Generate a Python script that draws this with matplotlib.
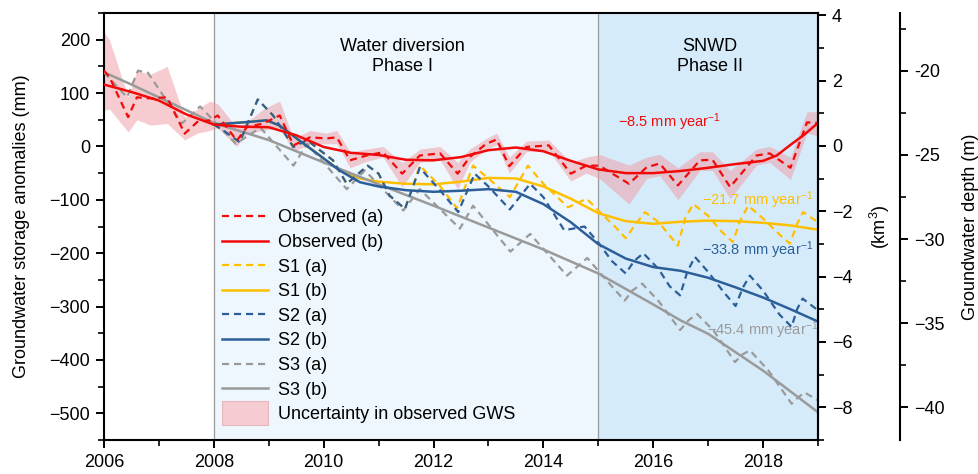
import matplotlib
matplotlib.use('Agg')
import matplotlib.pyplot as plt
import matplotlib.patches as mpatches
from matplotlib.legend_handler import HandlerPatch
from matplotlib.ticker import MultipleLocator, FixedLocator

plt.rcParams['font.family'] = ['Liberation Sans', 'DejaVu Sans']
plt.rcParams['mathtext.fontset'] = 'custom'
plt.rcParams['mathtext.rm'] = 'Liberation Sans'
plt.rcParams['mathtext.it'] = 'Liberation Sans:italic'
plt.rcParams['axes.unicode_minus'] = True

# ---- data (mm) ----
obs_a_t = [2006.0, 2006.1, 2006.44, 2006.6, 2006.84, 2007.15, 2007.47, 2007.7, 2007.93, 2008.07,
           2008.42, 2008.6, 2008.9, 2009.2, 2009.45, 2009.75, 2010.05, 2010.24, 2010.48, 2010.78,
           2011.08, 2011.43, 2011.75, 2012.12, 2012.44, 2012.66, 2012.96, 2013.15, 2013.38, 2013.69,
           2014.1, 2014.5, 2014.78, 2015.02, 2015.56, 2015.88, 2016.12, 2016.45, 2016.85, 2017.08,
           2017.4, 2017.88, 2018.12, 2018.5, 2018.8, 2019.0]
obs_a = [142, 130, 55, 92, 90, 92, 24, 46, 49, 58,
         11, 36, 43, 58, 2, 17, 15, 17, -26, -17,
         -11, -51, -17, -13, -51, -20, 5, 13, -37, -1,
         2, -51, -36, -36, -70, -39, -32, -73, -26, -25,
         -76, -17, -13, -40, 45, 44]
band_hi = [214, 200, 92, 142, 135, 150, 55, 70, 85, 80,
           35, 45, 70, 85, 15, 30, 25, 30, -10, -5,
           0, -30, -5, 0, -30, -5, 15, 25, -20, 10,
           12, -30, -20, -15, -35, -20, -15, -40, -10, -10,
           -45, -5, 0, -20, 65, 65]
band_lo = [68, 70, 27, 50, 40, 43, 12, 25, 30, 35,
           0, 25, 30, 35, -10, 5, 5, 5, -40, -28,
           -20, -76, -30, -25, -80, -30, -5, 3, -50, -10,
           -8, -65, -50, -60, -108, -60, -55, -100, -45, -45,
           -98, -35, -30, -62, 25, 20]

obs_b_t = [2006.0, 2006.5, 2007.0, 2007.5, 2008.0, 2008.5, 2009.0, 2009.5, 2010.0, 2010.5,
           2011.0, 2011.5, 2012.0, 2012.5, 2013.0, 2013.5, 2014.0, 2014.5, 2015.0, 2015.5,
           2016.0, 2016.5, 2017.0, 2017.5, 2018.0, 2018.25, 2018.5, 2018.75, 2019.0]
obs_b = [116, 102, 86, 60, 41, 37, 36, 21, -1, -12,
         -16, -25, -26, -20, -7, -2, -9, -27, -43, -50,
         -50, -46, -40, -33, -27, -17, 3, 22, 44]

s1a_t = [2008.0, 2008.2, 2008.47, 2008.8, 2009.08, 2009.45, 2009.7, 2009.93, 2010.17, 2010.42,
         2010.8, 2011.0, 2011.2, 2011.48, 2011.75, 2012.1, 2012.43, 2012.72, 2013.0, 2013.39,
         2013.72, 2014.0, 2014.45, 2014.79, 2015.05, 2015.3, 2015.5, 2015.65, 2015.85, 2016.1,
         2016.3, 2016.45, 2016.58, 2016.73, 2017.0, 2017.25, 2017.45, 2017.58, 2017.73, 2018.0,
         2018.3, 2018.49, 2018.62, 2018.73, 2019.0]
s1a = [41, 28, 8, 88, 58, -1, 12, -7, -26, -70,
       -36, -51, -92, -117, -36, -72, -116, -36, -60, -95,
       -36, -70, -114, -98, -125, -150, -172, -150, -123, -142,
       -167, -186, -135, -108, -130, -160, -179, -140, -111, -135,
       -165, -182, -145, -123, -142]

s1b_t = [2008.0, 2008.65, 2008.96, 2009.2, 2009.56, 2009.93, 2010.29, 2010.66, 2011.0, 2011.5,
         2012.0, 2012.5, 2013.0, 2013.5, 2014.0, 2014.5, 2015.0, 2015.5, 2016.0, 2016.5,
         2017.0, 2017.5, 2018.0, 2018.5, 2019.0]
s1b = [41, 46, 49, 39, 11, -17, -45, -60, -66, -70,
       -71, -66, -59, -60, -75, -98, -125, -140, -145, -141,
       -139, -140, -143, -148, -156]

s2a_t = [2008.0, 2008.2, 2008.47, 2008.8, 2009.08, 2009.45, 2009.7, 2009.93, 2010.17, 2010.42,
         2010.8, 2011.0, 2011.2, 2011.48, 2011.75, 2012.1, 2012.45, 2012.75, 2013.0, 2013.39,
         2013.76, 2014.0, 2014.38, 2014.75, 2015.0, 2015.25, 2015.5, 2015.65, 2015.82, 2016.1,
         2016.3, 2016.49, 2016.62, 2016.76, 2017.0, 2017.3, 2017.5, 2017.63, 2017.76, 2018.0,
         2018.3, 2018.52, 2018.62, 2018.72, 2019.0]
s2a = [41, 28, 8, 88, 58, -1, 12, -7, -26, -70,
       -36, -51, -92, -117, -40, -80, -123, -51, -75, -118,
       -70, -95, -157, -150, -180, -215, -238, -215, -200, -230,
       -262, -279, -235, -207, -235, -275, -299, -265, -242, -270,
       -315, -338, -305, -285, -307]

s2b_t = s1b_t
s2b = [41, 46, 49, 39, 11, -17, -45, -67, -75, -82,
       -85, -83, -80, -85, -108, -142, -183, -210, -226, -233,
       -246, -264, -283, -305, -328]

s3a_t = [2006.0, 2006.42, 2006.62, 2006.8, 2007.42, 2007.75, 2008.4, 2008.85, 2009.45, 2009.7,
         2010.42, 2010.75, 2011.45, 2011.75, 2012.48, 2012.72, 2013.4, 2013.76, 2014.43, 2014.8,
         2015.1, 2015.48, 2015.62, 2015.8, 2016.1, 2016.49, 2016.65, 2016.8, 2017.1, 2017.49,
         2017.62, 2017.76, 2018.1, 2018.52, 2018.64, 2018.76, 2019.0]
s3a = [139, 92, 142, 138, 43, 75, 5, 35, -36, 5,
       -80, -45, -120, -80, -154, -111, -197, -164, -242, -209,
       -245, -289, -270, -257, -290, -344, -325, -314, -345, -404,
       -390, -382, -420, -482, -470, -461, -476]

s3b_t = [2006.0, 2006.5, 2007.0, 2007.5, 2008.0, 2009.0, 2010.0, 2011.0, 2012.0, 2013.0,
         2014.0, 2015.0, 2016.0, 2016.5, 2017.0, 2018.0, 2019.0]
s3b = [139, 116, 92, 68, 44, 12, -30, -71, -111, -152,
       -193, -238, -296, -326, -351, -420, -498]

RED = '#f20a0a'
YEL = '#ffbf00'
BLU = '#2c5f99'
GRY = '#9a9a9a'
DASH = (3.2, 2.2)
FS = 13

fig = plt.figure(figsize=(9.79, 4.74), dpi=100)
ax = fig.add_axes([0.1062, 0.0717, 0.7293, 0.9009])

ax.axvspan(2008, 2015, color='#eef7fe', zorder=0, lw=0)
ax.axvspan(2015, 2019, color='#d6ebfa', zorder=0, lw=0)
ax.axvline(2008, color='#9a9a9a', lw=0.9, zorder=1)
ax.axvline(2015, color='#9a9a9a', lw=0.9, zorder=1)

ax.fill_between(obs_a_t, band_lo, band_hi, color='#ee9aa4', alpha=0.5, lw=0, zorder=2)

l1, = ax.plot(obs_a_t, obs_a, color=RED, lw=1.6, dashes=DASH, zorder=5)
l2, = ax.plot(obs_b_t, obs_b, color=RED, lw=1.8, zorder=5)
l3, = ax.plot(s1a_t, s1a, color=YEL, lw=1.6, dashes=DASH, zorder=3)
l4, = ax.plot(s1b_t, s1b, color=YEL, lw=1.8, zorder=3)
l5, = ax.plot(s2a_t, s2a, color=BLU, lw=1.6, dashes=DASH, zorder=4)
l6, = ax.plot(s2b_t, s2b, color=BLU, lw=1.8, zorder=4)
l7, = ax.plot(s3a_t, s3a, color=GRY, lw=1.6, dashes=DASH, zorder=3)
l8, = ax.plot(s3b_t, s3b, color=GRY, lw=1.8, zorder=3)

ax.set_xlim(2006, 2019)
ax.set_ylim(-550, 250)
ax.xaxis.set_major_locator(MultipleLocator(2))
ax.xaxis.set_minor_locator(MultipleLocator(1))
ax.yaxis.set_major_locator(MultipleLocator(100))
ax.yaxis.set_minor_locator(MultipleLocator(50))
ax.tick_params(which='major', direction='out', length=6, width=1.4, labelsize=FS, pad=4)
ax.tick_params(which='minor', direction='out', length=4, width=1.2)
for s in ax.spines.values():
    s.set_linewidth(1.5)
ax.set_ylabel('Groundwater storage anomalies (mm)', fontsize=FS, labelpad=14)

# km3 axis
ax2 = ax.twinx()
ax2.set_ylim(-9, 4.07)
ax2.yaxis.set_major_locator(MultipleLocator(2))
ax2.yaxis.set_minor_locator(MultipleLocator(1))
ax2.tick_params(which='major', direction='out', length=6, width=1.4, labelsize=FS, pad=4)
ax2.tick_params(which='minor', direction='out', length=4, width=1.2)
ax2.spines['right'].set_linewidth(1.5)
for k in ['left', 'top', 'bottom']:
    ax2.spines[k].set_visible(False)
ax2.set_ylabel('(km$^3$)', fontsize=FS, labelpad=11)

# depth axis
ax3 = ax.twinx()
ax3.set_ylim(-41.96, -16.55)
ax3.spines['right'].set_position(('axes', 1.1148))
ax3.spines['right'].set_linewidth(1.5)
for k in ['left', 'top', 'bottom']:
    ax3.spines[k].set_visible(False)
ax3.yaxis.set_major_locator(FixedLocator([-20, -25, -30, -35, -40]))
ax3.set_yticklabels(['-20', '-25', '\u221230', '\u221235', '\u221240'])
ax3.yaxis.set_minor_locator(FixedLocator([-17.5, -22.5, -27.5, -32.5, -37.5]))
ax3.tick_params(which='major', direction='out', length=6, width=1.4, labelsize=FS, pad=4)
ax3.tick_params(which='minor', direction='out', length=4, width=1.2)
ax3.set_ylabel('Groundwater depth (m)', fontsize=FS, labelpad=13)

# annotations
ax.text(2011.43, 169, 'Water diversion\nPhase I', ha='center', va='center', fontsize=FS)
ax.text(2017.03, 169, 'SNWD\nPhase II', ha='center', va='center', fontsize=FS)
ax.text(2016.3, 45, '\u22128.5 mm year$^{-1}$', color=RED, ha='center', va='center', fontsize=10.5)
ax.text(2017.9, -101, '\u221221.7 mm year$^{-1}$', color=YEL, ha='center', va='center', fontsize=10.5)
ax.text(2017.9, -195, '\u221233.8 mm year$^{-1}$', color=BLU, ha='center', va='center', fontsize=10.5)
ax.text(2018.0, -345, '\u221245.4 mm year$^{-1}$', color=GRY, ha='center', va='center', fontsize=10.5)


def tall_rect(legend, orig_handle, xdescent, ydescent, width, height, fontsize):
    return mpatches.Rectangle((-xdescent, -ydescent - 0.45 * height), width, 1.9 * height)


leg_patch = mpatches.Patch(facecolor='#f4ccd1', edgecolor='#e6b8be', lw=0.8)
ax.legend([l1, l2, l3, l4, l5, l6, l7, l8, leg_patch],
          ['Observed (a)', 'Observed (b)', 'S1 (a)', 'S1 (b)', 'S2 (a)', 'S2 (b)',
           'S3 (a)', 'S3 (b)', 'Uncertainty in observed GWS'],
          loc='upper left', bbox_to_anchor=(0.165, 0.540), frameon=False, fontsize=FS,
          borderpad=0, borderaxespad=0, handlelength=2.55, handletextpad=0.55,
          labelspacing=0.42, handler_map={mpatches.Patch: HandlerPatch(patch_func=tall_rect)})

fig.savefig('out.png', dpi=100)
